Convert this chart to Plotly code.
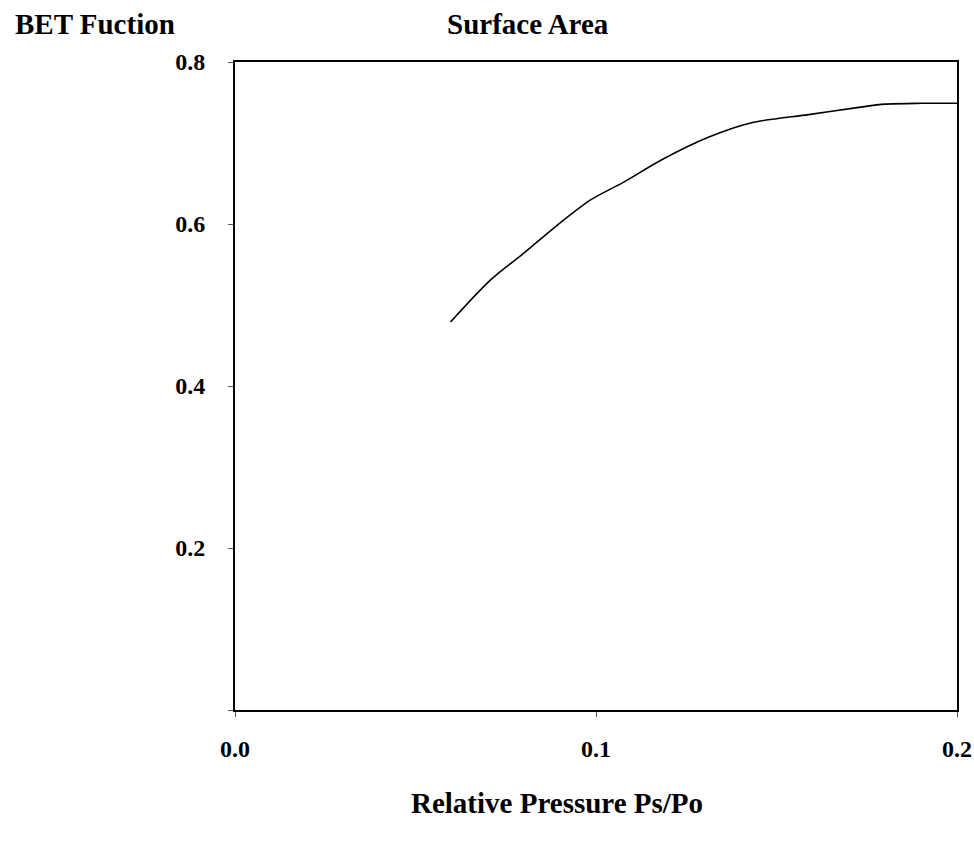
import plotly.graph_objects as go

# BET function curve vs relative pressure
rel_pressure = [0.0597, 0.0708, 0.0800, 0.0894, 0.0986, 0.1078, 0.1181, 0.1311,
                0.1431, 0.1589, 0.1728, 0.1800, 0.1903, 0.2000]
bet_function = [0.479, 0.531, 0.564, 0.599, 0.630, 0.652, 0.679, 0.707,
                0.725, 0.735, 0.744, 0.748, 0.749, 0.749]

x_tick_vals = [0.0, 0.1, 0.2]
x_tick_text = ["0.0", "0.1", "0.2"]
y_tick_vals = [0.0, 0.2, 0.4, 0.6, 0.8]
y_tick_text = ["", "0.2", "0.4", "0.6", "0.8"]

font_family = "Liberation Serif, Times New Roman, serif"
tick_font = dict(family=font_family, size=24, color="black", weight="bold")
title_font = dict(family=font_family, size=29, color="black", weight="bold")

fig = go.Figure()
fig.add_trace(go.Scatter(
    x=rel_pressure, y=bet_function, mode="lines",
    line=dict(color="black", width=1.6, shape="spline", smoothing=0.8),
    showlegend=False, hoverinfo="skip",
))

fig.update_layout(
    width=974, height=843,
    margin=dict(l=235, r=17, t=62, b=133),
    paper_bgcolor="white", plot_bgcolor="white",
    font=dict(family=font_family, size=20, color="black", weight="bold"),
    xaxis=dict(
        range=[0, 0.2], tickvals=x_tick_vals, ticktext=x_tick_text,
        ticks="outside", ticklen=5, tickcolor="#555", tickwidth=1,
        ticklabelstandoff=11, automargin=False,
        showgrid=False, zeroline=False,
        showline=True, linecolor="black", linewidth=2, mirror=True,
        tickfont=tick_font,
    ),
    yaxis=dict(
        range=[0, 0.8], tickvals=y_tick_vals, ticktext=y_tick_text,
        ticks="outside", ticklen=5, tickcolor="#555", tickwidth=1,
        ticklabelstandoff=18, automargin=False,
        showgrid=False, zeroline=False,
        showline=True, linecolor="black", linewidth=2, mirror=True,
        tickfont=tick_font,
    ),
    annotations=[
        dict(text="BET Fuction", xref="paper", yref="paper", x=-0.307, y=1.058,
             xanchor="left", yanchor="middle", showarrow=False, font=title_font),
        dict(text="Surface Area", xref="paper", yref="paper", x=0.406, y=1.058,
             xanchor="center", yanchor="middle", showarrow=False, font=title_font),
        dict(text="Relative Pressure Ps/Po", xref="paper", yref="paper", x=0.446, y=-0.143,
             xanchor="center", yanchor="middle", showarrow=False, font=title_font),
    ],
)

fig.write_html("out.html")
